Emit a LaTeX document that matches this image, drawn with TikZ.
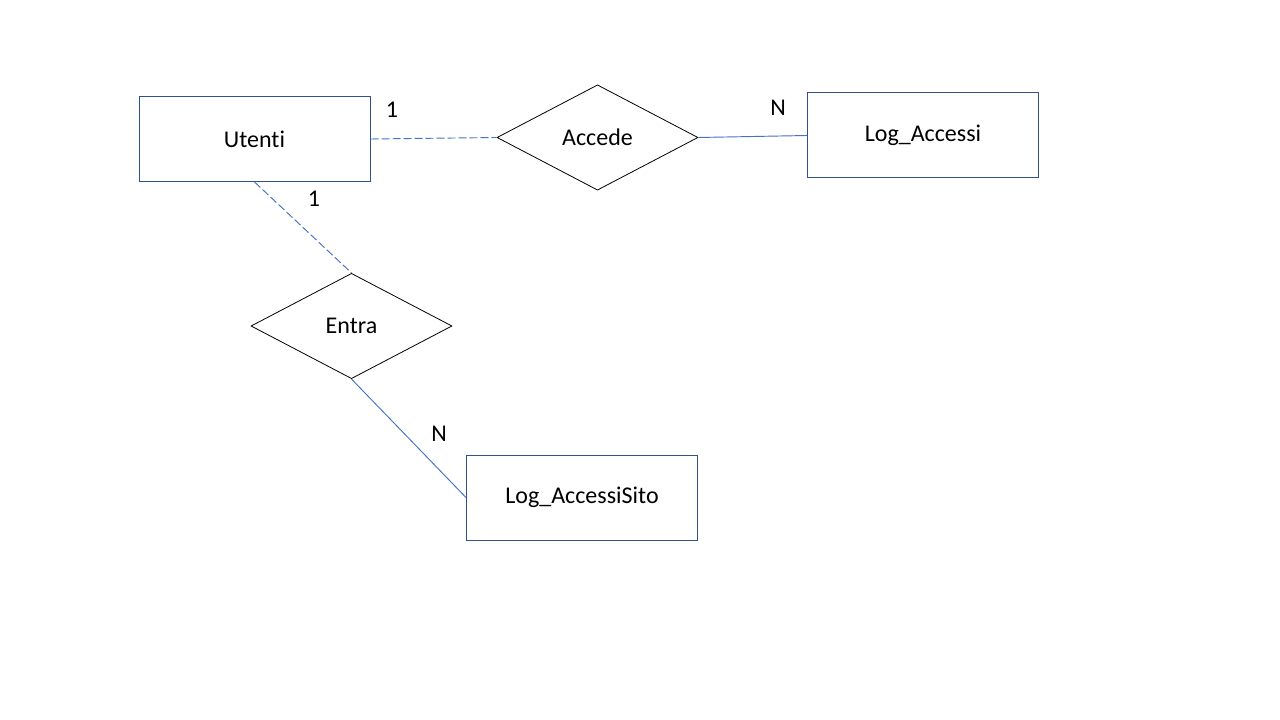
\documentclass[tikz,border=0pt]{standalone}
\usepackage{fontspec}
\setmainfont{Carlito}[Ligatures=NoCommon]
\usetikzlibrary{shapes.geometric}
\definecolor{boxblue}{HTML}{2F528F}
\definecolor{lineblue}{HTML}{4472C4}
\begin{document}
\begin{tikzpicture}[x=0.75pt,y=-0.75pt,
		entita/.style={draw=boxblue,line width=0.75pt,minimum width=173.25pt,minimum height=63.75pt,inner sep=0pt,font=\fontsize{18}{22}\selectfont},
		relazione/.style={diamond,draw=black,line width=0.6pt,minimum width=150.75pt,minimum height=79pt,inner sep=0pt,font=\fontsize{18}{22}\selectfont},
		link/.style={draw=lineblue,line width=0.7pt},
		tratto/.style={link,dash pattern=on 6pt off 2.25pt},
		card/.style={font=\fontsize{18}{22}\selectfont}]
		\useasboundingbox (0,0) rectangle (1280,720);
		
		\node[entita] (utenti) at (254.5,139) {Utenti};
		\node[entita] (log) at (923,135.5) {Log\_Accessi};
		\node[entita] (sito) at (582,497.5) {Log\_AccessiSito};
		
		\node[relazione] (accede) at (597.5,137.5) {Accede};
		\node[relazione] (entra) at (351.5,326) {Entra};
		
		\draw[tratto] (utenti.east) -- (accede.west);
		\draw[link] (accede.east) -- (log.west);
		\draw[tratto] (utenti.south) -- (entra.north);
		\draw[link] (entra.south) -- (sito.west);
		
		\node[card] (c1) at (392,110) {1};
		\node[card] (c2) at (778,108) {N};
		\node[card] (c3) at (314,199) {1};
		\node[card] (c4) at (439,434) {N};
		\end{tikzpicture}
\end{document}
